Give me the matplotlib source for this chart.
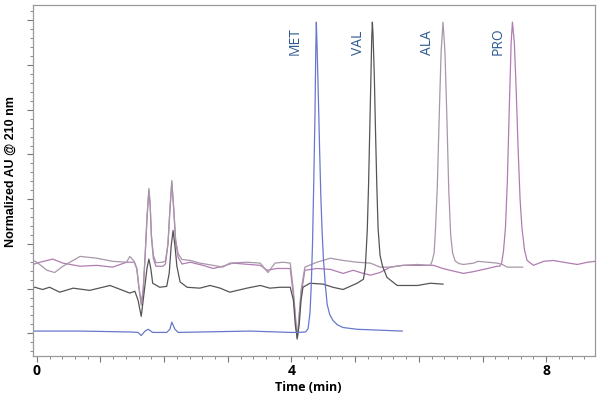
import matplotlib
matplotlib.use("Agg")
import matplotlib.pyplot as plt
from matplotlib.ticker import MultipleLocator

# chromatogram traces: time (min) and normalized AU
met_t = [-0.06, 0.68, 1.46, 1.59, 1.64, 1.70, 1.75, 1.82, 2.04, 2.09, 2.12, 2.17, 2.22,
         3.35, 3.98, 4.10, 4.22, 4.26, 4.29, 4.31, 4.33, 4.35, 4.37, 4.38, 4.39, 4.40,
         4.42, 4.44, 4.46, 4.48, 4.50, 4.53, 4.56, 4.60, 4.65, 4.72, 4.81, 5.03, 5.39, 5.74]
met_v = [0.05, 0.05, 0.03, 0.02, -0.05, 0.05, 0.09, 0.02, 0.02, 0.09, 0.25, 0.09, 0.02,
         0.05, 0.02, 0.02, 0.03, 0.10, 0.45, 1.05, 2.00, 3.40, 5.00, 6.20, 6.96, 6.50,
         5.40, 4.20, 3.10, 2.30, 1.70, 1.10, 0.65, 0.42, 0.29, 0.19, 0.13, 0.09, 0.07, 0.05]

val_t = [-0.06, -0.03, 0.09, 0.20, 0.36, 0.57, 0.83, 1.15, 1.46, 1.54, 1.59, 1.64, 1.68,
         1.73, 1.76, 1.79, 1.82, 1.93, 2.04, 2.08, 2.11, 2.14, 2.17, 2.20, 2.25, 2.36,
         2.56, 2.72, 2.88, 3.03, 3.30, 3.51, 3.66, 3.82, 3.98, 4.03, 4.06, 4.09, 4.12,
         4.15, 4.18, 4.29, 4.50, 4.65, 4.81, 5.03, 5.13, 5.16, 5.19, 5.21, 5.23, 5.25,
         5.26, 5.27, 5.28, 5.30, 5.32, 5.34, 5.36, 5.39, 5.43, 5.50, 5.66, 5.98, 6.18, 6.38]
val_v = [1.01, 1.03, 0.98, 1.03, 0.92, 1.01, 0.96, 1.07, 0.90, 0.94, 0.74, 0.38, 0.85,
         1.45, 1.66, 1.45, 1.12, 1.03, 1.05, 1.35, 1.95, 2.30, 1.95, 1.50, 1.15, 1.03,
         1.01, 1.07, 1.01, 0.92, 1.01, 1.07, 1.01, 1.03, 1.03, 0.74, 0.18, -0.11, 0.18,
         0.74, 1.03, 1.12, 1.10, 1.03, 0.98, 1.12, 1.21, 1.48, 2.30, 3.30, 4.60, 5.90,
         6.60, 6.96, 6.70, 5.80, 4.50, 3.30, 2.35, 1.75, 1.50, 1.25, 1.07, 1.07, 1.12, 1.10]

ala_t = [-0.06, 0.00, 0.16, 0.28, 0.41, 0.68, 0.94, 1.19, 1.41, 1.46, 1.53, 1.57, 1.60,
         1.64, 1.67, 1.70, 1.73, 1.76, 1.78, 1.80, 1.83, 1.87, 1.98, 2.02, 2.06, 2.09,
         2.12, 2.15, 2.18, 2.22, 2.28, 2.41, 2.56, 2.77, 2.92, 3.03, 3.30, 3.51, 3.63,
         3.74, 3.87, 3.98, 4.03, 4.09, 4.15, 4.21, 4.40, 4.61, 4.81, 5.03, 5.24, 5.39,
         5.55, 5.75, 5.97, 6.18, 6.21, 6.24, 6.26, 6.29, 6.32, 6.35, 6.38, 6.41, 6.44,
         6.47, 6.50, 6.53, 6.57, 6.63, 6.70, 6.86, 6.93, 7.08, 7.23, 7.31, 7.39, 7.63]
ala_v = [1.63, 1.59, 1.41, 1.36, 1.50, 1.72, 1.68, 1.61, 1.59, 1.72, 1.61, 1.45, 1.07,
         0.63, 0.96, 1.70, 2.60, 3.24, 2.90, 2.20, 1.75, 1.58, 1.59, 1.62, 2.00, 2.75,
         3.42, 2.80, 2.10, 1.78, 1.65, 1.63, 1.57, 1.52, 1.48, 1.57, 1.59, 1.57, 1.36,
         1.57, 1.59, 1.57, 0.96, -0.13, 0.96, 1.48, 1.59, 1.68, 1.63, 1.59, 1.57, 1.48,
         1.48, 1.52, 1.54, 1.52, 1.62, 1.80, 2.28, 3.28, 4.85, 6.30, 6.96, 6.30, 4.85,
         3.20, 2.20, 1.80, 1.62, 1.56, 1.54, 1.57, 1.61, 1.59, 1.57, 1.54, 1.48, 1.48]

pro_t = [-0.06, 0.05, 0.25, 0.41, 0.68, 0.94, 1.19, 1.41, 1.53, 1.57, 1.60, 1.64, 1.67,
         1.70, 1.73, 1.76, 1.78, 1.80, 1.83, 1.87, 1.98, 2.02, 2.06, 2.09, 2.12, 2.15,
         2.18, 2.22, 2.28, 2.41, 2.61, 2.77, 2.92, 3.08, 3.51, 3.62, 3.77, 3.98, 4.03,
         4.09, 4.15, 4.21, 4.40, 4.61, 4.81, 4.97, 5.08, 5.24, 5.39, 5.55, 5.75, 5.97,
         6.23, 6.38, 6.49, 6.70, 6.86, 7.08, 7.23, 7.27, 7.30, 7.33, 7.36, 7.39, 7.42,
         7.45, 7.47, 7.50, 7.53, 7.56, 7.59, 7.62, 7.66, 7.70, 7.80, 7.96, 8.11, 8.27,
         8.49, 8.65, 8.77]
pro_v = [1.54, 1.59, 1.66, 1.57, 1.50, 1.52, 1.48, 1.59, 1.59, 1.45, 1.07, 0.67, 0.96,
         1.70, 2.55, 3.20, 2.85, 2.15, 1.68, 1.50, 1.50, 1.55, 2.00, 2.75, 3.38, 2.78,
         2.05, 1.70, 1.55, 1.59, 1.52, 1.45, 1.50, 1.57, 1.52, 1.41, 1.45, 1.45, 0.85,
         -0.13, 0.85, 1.41, 1.45, 1.43, 1.34, 1.41, 1.36, 1.30, 1.36, 1.48, 1.52, 1.52,
         1.52, 1.45, 1.41, 1.34, 1.38, 1.45, 1.50, 1.50, 1.57, 1.85, 2.35, 3.40, 5.00,
         6.50, 6.96, 6.50, 5.40, 4.10, 3.00, 2.35, 1.86, 1.63, 1.52, 1.61, 1.63, 1.59,
         1.54, 1.59, 1.61]

names = ['MET', 'VAL', 'ALA', 'PRO']
name_t = [4.06, 5.05, 6.13, 7.25]

fig = plt.figure(figsize=(6, 3.97), dpi=100)
ax = fig.add_axes([0.055, 0.103, 0.937, 0.884])

ax.plot(pro_t, pro_v, color='#b07cb2', lw=0.9)
ax.plot(ala_t, ala_v, color='#a996aa', lw=0.9)
ax.plot(val_t, val_v, color='#555555', lw=0.9)
ax.plot(met_t, met_v, color='#6878cc', lw=0.9)

for n, t in zip(names, name_t):
    ax.text(t, 6.22, n, rotation=90, ha='center', va='bottom', color='#2f5b92',
            fontsize=10, family='Open Sans')

ax.set_xlim(-0.06, 8.77)
ax.set_ylim(-0.51, 7.34)
ax.set_xticks(range(9))
ax.set_xticklabels(['0', '', '', '', '4', '', '', '', '8'])
ax.xaxis.set_minor_locator(MultipleLocator(0.2))
ax.set_yticks(range(8))
ax.set_yticklabels([])
ax.yaxis.set_minor_locator(MultipleLocator(0.2))
ax.tick_params(which='major', length=4, width=0.8, color='#777777', pad=2)
ax.tick_params(which='minor', length=2, width=0.6, color='#777777')
for lab in ax.get_xticklabels():
    lab.set_fontweight('bold')
    lab.set_fontsize(10)
    lab.set_family('Open Sans')
for s in ax.spines.values():
    s.set_color('#999999')
    s.set_linewidth(0.9)

ax.set_xlabel('Time (min)', fontsize=9, fontweight='bold', family='Open Sans')
ax.xaxis.set_label_coords(0.489, -0.072)
ax.set_ylabel('Normalized AU @ 210 nm', fontsize=9, fontweight='bold',
              family='Liberation Sans')
ax.yaxis.set_label_coords(-0.028, 0.527)

plt.savefig('out.png', dpi=100)
